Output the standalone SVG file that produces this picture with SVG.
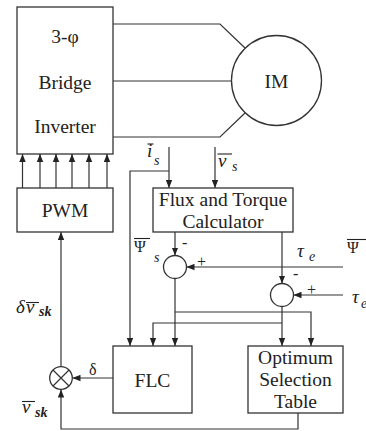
<svg xmlns="http://www.w3.org/2000/svg" width="366" height="431" viewBox="0 0 366 431">
<style>
.b{fill:#fff;stroke:#333;stroke-width:1.3}
.w{fill:none;stroke:#333;stroke-width:1.2}
.a{fill:none;stroke:#333;stroke-width:1.2;marker-end:url(#ah)}
.t{font-family:"Liberation Serif","Times New Roman",serif;font-size:19.5px;fill:#222;text-anchor:middle}
.m{font-family:"Liberation Serif","Times New Roman",serif;font-style:italic;fill:#222}
.s{font-family:"Liberation Serif","Times New Roman",serif;font-size:16px;fill:#222}
.bar{stroke:#222;stroke-width:1.1}
</style>
<defs>
<marker id="ah" viewBox="0 0 10 8" refX="10" refY="4" markerWidth="8" markerHeight="7" orient="auto" markerUnits="userSpaceOnUse">
<path d="M0,0 L10,4 L0,8 z" fill="#222"/>
</marker>
</defs>
<rect width="366" height="431" fill="#fff"/>

<g id="connectors">
<path class="w" d="M113,24 H220 L245,48"/>
<path class="w" d="M113,81 H231.5"/>
<path class="w" d="M113,137 H220 L245,113"/>
<path class="a" d="M22.5,188 V154"/>
<path class="a" d="M40,188 V154"/>
<path class="a" d="M56,188 V154"/>
<path class="a" d="M72,188 V154"/>
<path class="a" d="M89,188 V154"/>
<path class="a" d="M107,188 V154"/>
<path class="a" d="M61,367 V232"/>
<path class="a" d="M298,413 V429 H61 V389.5"/>
<path class="a" d="M113,378 H72.5"/>
<path class="a" d="M169,147 V188"/>
<path class="a" d="M169,171 H130 V346"/>
<path class="a" d="M215,147 V188"/>
<path class="a" d="M175,232 V255.5"/>
<path class="a" d="M282,232 V283.5"/>
<path class="a" d="M343,267 H186.5"/>
<path class="a" d="M343,295 H293.5"/>
<path class="a" d="M175,278.5 V346"/>
<path class="a" d="M175,312 H311 V346"/>
<path class="a" d="M282,306.5 V346"/>
<path class="a" d="M282,323 H153 V346"/>
</g>

<g id="inverter">
<rect class="b" x="17" y="7" width="96" height="147"/>
<text class="t" x="65" y="43">3-φ</text>
<text class="t" x="65" y="89">Bridge</text>
<text class="t" x="65" y="133">Inverter</text>
</g>

<g id="im">
<circle class="b" cx="276.5" cy="80.5" r="45"/>
<text class="t" x="276.5" y="88">IM</text>
</g>

<g id="pwm">
<rect class="b" x="17" y="188" width="96" height="44"/>
<text class="t" x="65" y="217">PWM</text>
</g>

<g id="ftc">
<rect class="b" x="153" y="188" width="140" height="44"/>
<text class="t" x="223" y="206">Flux and Torque</text>
<text class="t" x="223" y="228">Calculator</text>
</g>

<g id="sum1">
<circle class="b" cx="175" cy="267" r="11.5"/>
</g>
<g id="sum2">
<circle class="b" cx="282" cy="295" r="11.5"/>
</g>

<g id="multiplier">
<circle class="b" cx="61" cy="378" r="11.3"/>
<path class="w" d="M53,370 L69,386 M69,370 L53,386"/>
</g>

<g id="flc">
<rect class="b" x="113" y="346" width="79" height="67"/>
<text class="t" x="152.5" y="387">FLC</text>
</g>

<g id="ost">
<rect class="b" x="248" y="346" width="95" height="67"/>
<text class="t" x="295.5" y="364">Optimum</text>
<text class="t" x="295.5" y="386">Selection</text>
<text class="t" x="295.5" y="408">Table</text>
</g>

<g id="labels">
<text class="m" x="147" y="157" font-size="19">i</text>
<line class="bar" x1="147.5" y1="144" x2="153.5" y2="144"/>
<text class="m" x="154" y="165" font-size="14">s</text>

<text class="m" x="218" y="167" font-size="19">v</text>
<line class="bar" x1="217.5" y1="154" x2="232" y2="154"/>
<text class="m" x="232" y="171" font-size="14">s</text>

<text class="s" x="134" y="252" font-size="17">Ψ</text>
<line class="bar" x1="134" y1="238.5" x2="150" y2="238.5"/>
<text class="m" x="154" y="262" font-size="14">s</text>

<text class="m" x="297" y="257" font-size="19">τ</text>
<text class="m" x="309" y="261" font-size="14">e</text>

<text class="s" x="347" y="253" font-size="17">Ψ</text>
<line class="bar" x1="347" y1="239.5" x2="366" y2="239.5"/>

<text class="m" x="352" y="303" font-size="19">τ</text>
<text class="m" x="361" y="308" font-size="14">e</text>

<text class="m" x="16" y="313" font-size="19">δ</text>
<text class="m" x="26" y="313" font-size="19">v</text>
<line class="bar" x1="26" y1="302.5" x2="39" y2="302.5"/>
<text class="m" x="39" y="316" font-size="14" font-weight="bold">sk</text>

<text class="m" x="22" y="413" font-size="19">v</text>
<line class="bar" x1="22" y1="401.5" x2="35" y2="401.5"/>
<text class="m" x="35" y="417" font-size="14" font-weight="bold">sk</text>

<text class="s" x="89" y="375" font-size="19">δ</text>

<text class="s" x="182" y="248" font-size="16">-</text>
<text class="s" x="197" y="267" font-size="17">+</text>
<text class="s" x="293" y="279" font-size="16">-</text>
<text class="s" x="307" y="295" font-size="17">+</text>
</g>
</svg>
